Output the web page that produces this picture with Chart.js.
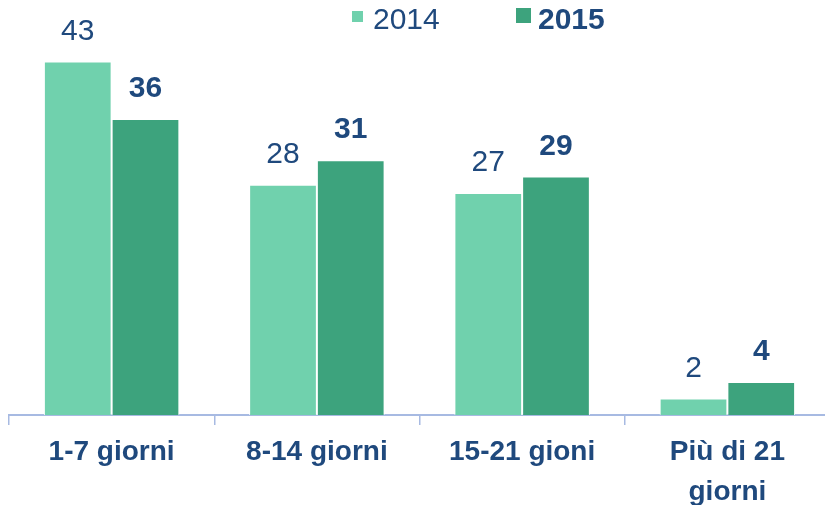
<!DOCTYPE html>
<html>
<head>
<meta charset="utf-8">
<script src="https://cdn.jsdelivr.net/npm/chart.js@4/dist/chart.umd.min.js"></script>
<style>
  html, body { margin: 0; padding: 0; background: #fff; overflow: hidden; }
  #wrap { position: relative; width: 832px; height: 505px; }
</style>
</head>
<body>
<div id="wrap"><canvas id="chart"></canvas></div>
<script>
// Giorni di attesa, confronto 2014 / 2015
const categories = ["1-7 giorni", "8-14 giorni", "15-21 gioni", ["Più di 21", "giorni"]]
const seriesNames = ["2014", "2015"]
const values2014 = [43, 28, 27, 2]
const values2015 = [36, 31, 29, 4]

const TEXT = "#1F497D"
const LIGHT = "#70D1AD"
const DARK = "#3DA37D"
const AXIS = "#A7BAE2"
const FONT = "'Liberation Sans', Arial, sans-serif"

// value labels above each bar: 2014 regular, 2015 bold
const valueLabels = {
  id: "valueLabels",
  afterDatasetsDraw(chart) {
    const ctx = chart.ctx
    ctx.save()
    ctx.fillStyle = TEXT
    ctx.textAlign = "center"
    ctx.textBaseline = "alphabetic"
    chart.data.datasets.forEach((ds, i) => {
      ctx.font = (i === 1 ? "bold " : "") + "30px " + FONT
      chart.getDatasetMeta(i).data.forEach((bar, j) => {
        ctx.fillText(String(ds.data[j]), bar.x, bar.y - 22)
      })
    })
    ctx.restore()
  },
}

// legend on top, square markers of different size like the original
const topLegend = {
  id: "topLegend",
  afterDraw(chart) {
    const ctx = chart.ctx
    const items = [
      { x: 352, y: 11, s: 11, tx: 373, bold: false },
      { x: 516, y: 8, s: 15, tx: 538, bold: true },
    ]
    ctx.save()
    ctx.textAlign = "left"
    ctx.textBaseline = "alphabetic"
    chart.data.datasets.forEach((ds, i) => {
      const it = items[i]
      ctx.fillStyle = ds.backgroundColor
      ctx.fillRect(it.x, it.y, it.s, it.s)
      ctx.fillStyle = TEXT
      ctx.font = (it.bold ? "bold " : "") + "30px " + FONT
      ctx.fillText(ds.label, it.tx, 29)
    })
    ctx.restore()
  },
}

new Chart(document.getElementById("chart"), {
  type: "bar",
  data: {
    labels: categories,
    datasets: [
      {
        label: seriesNames[0],
        data: values2014,
        backgroundColor: LIGHT,
        borderColor: "#ffffff",
        borderWidth: 1,
        categoryPercentage: 0.66,
        barPercentage: 1.0,
      },
      {
        label: seriesNames[1],
        data: values2015,
        backgroundColor: DARK,
        borderColor: "#ffffff",
        borderWidth: 1,
        categoryPercentage: 0.66,
        barPercentage: 1.0,
      },
    ],
  },
  options: {
    responsive: true,
    maintainAspectRatio: false,
    animation: false,
    layout: { padding: { left: 9, right: 2, top: 4, bottom: 0 } },
    plugins: { legend: { display: false }, tooltip: { enabled: false } },
    scales: {
      x: {
        offset: true,
        afterFit: (scale) => { scale.height = 90 },
        border: { display: true, color: AXIS, width: 2 },
        grid: {
          offset: true,
          drawOnChartArea: false,
          drawTicks: true,
          tickLength: 10,
          color: AXIS,
          lineWidth: 1.5,
        },
        ticks: {
          color: TEXT,
          padding: 8,
          maxRotation: 0,
          autoSkip: false,
          font: { family: FONT, size: 28, weight: "bold", lineHeight: 1.4 },
        },
      },
      y: { display: false, min: 0, max: 50 },
    },
  },
  plugins: [valueLabels, topLegend],
})
</script>
</body>
</html>
